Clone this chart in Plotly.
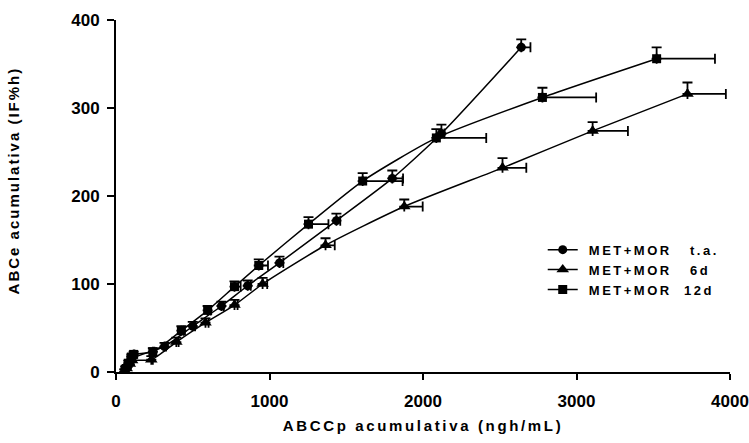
import plotly.graph_objects as go

# Series: MET+MOR t.a. (circles)
ta_x = [55, 70, 85, 100, 316, 500, 687, 858, 1065, 1436, 1800, 2120, 2640]
ta_y = [0, 5, 10, 15, 29, 52, 75, 98, 124, 172, 220, 271, 369]
ta_ex = [5, 5, 5, 5, 10, 15, 15, 20, 25, 25, 70, 20, 60]
ta_ey = [3, 3, 3, 3, 4, 5, 5, 6, 7, 8, 9, 10, 9]

# Series: MET+MOR 6d (triangles)
d6_x = [55, 70, 90, 105, 230, 393, 583, 772, 955, 1365, 1878, 2518, 3105, 3723]
d6_y = [0, 4, 9, 13, 14, 34, 56, 76, 100, 144, 188, 232, 274, 316]
d6_ex = [5, 5, 5, 5, 10, 15, 20, 20, 30, 60, 120, 155, 230, 250]
d6_ey = [3, 3, 3, 3, 4, 5, 5, 6, 7, 8, 8, 11, 10, 13]

# Series: MET+MOR 12d (squares)
d12_x = [60, 80, 100, 115, 240, 426, 597, 772, 930, 1254, 1607, 2087, 2778, 3522]
d12_y = [3, 10, 17, 20, 23, 47, 70, 97, 121, 168, 217, 266, 312, 356]
d12_ex = [5, 5, 5, 5, 10, 15, 20, 40, 60, 130, 260, 325, 350, 380]
d12_ey = [3, 3, 3, 3, 4, 5, 5, 6, 7, 8, 9, 10, 11, 13]

NB = "\u00a0"
names = ["MET+MOR" + NB * 3 + "t.a.", "MET+MOR" + NB * 3 + "6d", "MET+MOR" + NB * 2 + "12d"]
x_ticks = [0, 1000, 2000, 3000, 4000]
y_ticks = [0, 100, 200, 300, 400]
x_title = "ABCCp acumulativa (ngh/mL)"
y_title = "ABCe acumulativa (IF%h)"


def spaced(t, px):
    return '<span style="letter-spacing:%spx">%s</span>' % (px, t)


fig = go.Figure()
series = [
    (ta_x, ta_y, ta_ex, ta_ey, "circle", 9, names[0]),
    (d6_x, d6_y, d6_ex, d6_ey, "triangle-up", 11, names[1]),
    (d12_x, d12_y, d12_ex, d12_ey, "square", 9, names[2]),
]
for x, y, ex, ey, sym, sz, nm in series:
    fig.add_trace(go.Scatter(
        x=x, y=y, name=spaced(NB + nm, 2.5), mode="lines+markers",
        line=dict(color="black", width=1.5, shape="spline", smoothing=0.6),
        marker=dict(symbol=sym, size=sz, color="black"),
        error_x=dict(type="data", array=ex, arrayminus=[0] * len(ex), symmetric=False,
                     color="black", thickness=1.8, width=5),
        error_y=dict(type="data", array=ey, arrayminus=[0] * len(ey), symmetric=False,
                     color="black", thickness=1.8, width=5),
    ))

FAM = "Liberation Sans, Arial, sans-serif"
fig.update_layout(
    width=749, height=443,
    margin=dict(l=116, r=19, t=20, b=71, autoexpand=False),
    paper_bgcolor="white", plot_bgcolor="white",
    font=dict(family=FAM, size=15, color="black"),
    showlegend=True,
    legend=dict(x=0.695, y=0.39, xanchor="left", yanchor="top",
                font=dict(family=FAM, size=13, color="black", weight="bold"),
                bgcolor="rgba(0,0,0,0)", tracegroupgap=0),
    xaxis=dict(
        range=[0, 4000], tickvals=x_ticks, ticktext=[str(v) for v in x_ticks],
        automargin=False,
        showgrid=False, zeroline=False, showline=True, linecolor="black", linewidth=2,
        ticks="outside", ticklen=6, tickwidth=1.5, tickcolor="black",
        tickfont=dict(family=FAM, size=17, color="black", weight="bold"),
        title=dict(text=spaced(x_title, 2.65), standoff=10,
                   font=dict(family=FAM, size=15, color="black", weight="bold")),
        ticklabelstandoff=7,
    ),
    yaxis=dict(
        range=[0, 400], tickvals=y_ticks, ticktext=[str(v) for v in y_ticks],
        automargin=False,
        showgrid=False, zeroline=False, showline=True, linecolor="black", linewidth=2,
        ticks="outside", ticklen=7, tickwidth=1.5, tickcolor="black",
        tickfont=dict(family=FAM, size=17, color="black", weight="bold"),
        ticklabelstandoff=4,
        title=dict(text=spaced(NB * 5 + y_title, 2.0), standoff=48,
                   font=dict(family=FAM, size=15, color="black", weight="bold")),
    ),
)
fig.write_html("out.html")
